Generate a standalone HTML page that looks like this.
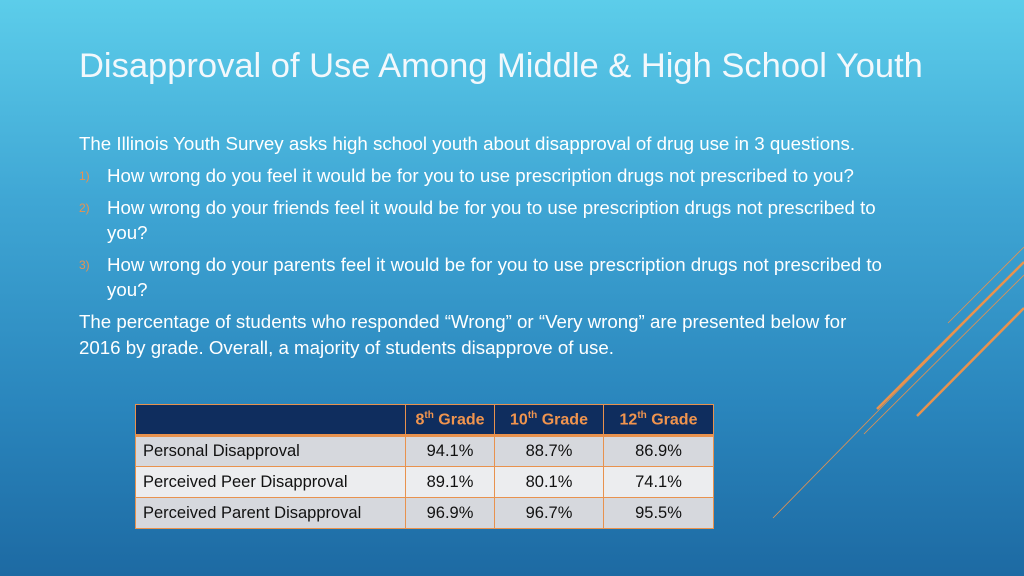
<!DOCTYPE html>
<html><head><meta charset="utf-8"><style>
body{margin:0;width:1024px;height:576px;overflow:hidden;font-family:"Liberation Sans",sans-serif;}
#slide{position:relative;width:1024px;height:576px;background:linear-gradient(180deg,#5ccdea 0%,#3fa6d4 35%,#2a86bd 70%,#1d6aa3 100%);color:#fff;}
.t{position:absolute;white-space:nowrap;font-size:18.7px;line-height:22px;}
.n{position:absolute;font-size:12px;color:#e8924e;line-height:22px;}
#title{position:absolute;left:79px;top:47px;font-size:34.5px;font-weight:300;color:#f2f8fc;white-space:nowrap;}
table{position:absolute;left:135px;top:404px;border-collapse:collapse;font-size:16.5px;table-layout:fixed;width:578px;}
td,th{border:1.5px solid #e8924e;height:30px;padding:0;box-sizing:border-box;}
th{background:#0f2d5e;color:#f0944e;font-weight:bold;font-size:16px;border-bottom:3px solid #e8924e;}
td{color:#111;text-align:center;}
td.l{text-align:left;padding-left:7px;}
tr.a td{background:#d6d8dd;} tr.b td{background:#ecedef;}
sup{font-size:10px;}
</style></head><body>
<div id="slide">
<div id="title">Disapproval of Use Among Middle &amp; High School Youth</div>
<div class="t" style="left:79px;top:133px">The Illinois Youth Survey asks high school youth about disapproval of drug use in 3 questions.</div>
<div class="n" style="left:79px;top:165px">1)</div>
<div class="t" style="left:107px;top:165px">How wrong do you feel it would be for you to use prescription drugs not prescribed to you?</div>
<div class="n" style="left:79px;top:197px">2)</div>
<div class="t" style="left:107px;top:197px">How wrong do your friends feel it would be for you to use prescription drugs not prescribed to</div>
<div class="t" style="left:107px;top:222px">you?</div>
<div class="n" style="left:79px;top:254px">3)</div>
<div class="t" style="left:107px;top:254px">How wrong do your parents feel it would be for you to use prescription drugs not prescribed to</div>
<div class="t" style="left:107px;top:279px">you?</div>
<div class="t" style="left:79px;top:311px">The percentage of students who responded “Wrong” or “Very wrong” are presented below for</div>
<div class="t" style="left:79px;top:337px">2016 by grade. Overall, a majority of students disapprove of use.</div>
<svg width="1024" height="576" style="position:absolute;left:0;top:0">
<g stroke="#e8924e" fill="none">
<line x1="877" y1="409" x2="1024" y2="262" stroke-width="2.5"/>
<line x1="917" y1="416" x2="1024" y2="308" stroke-width="2.5"/>
<line x1="773" y1="518" x2="1024" y2="262" stroke-width="0.8"/>
<line x1="864" y1="434" x2="1024" y2="275" stroke-width="0.8"/>
<line x1="948" y1="323" x2="1024" y2="247" stroke-width="0.8"/>
</g></svg>
<table>
<colgroup><col style="width:270px"><col style="width:89px"><col style="width:109px"><col style="width:110px"></colgroup>
<tr style="height:31px"><th></th><th>8<sup>th</sup> Grade</th><th>10<sup>th</sup> Grade</th><th>12<sup>th</sup> Grade</th></tr>
<tr class="a" style="height:31px"><td class="l">Personal Disapproval</td><td>94.1%</td><td>88.7%</td><td>86.9%</td></tr>
<tr class="b" style="height:31px"><td class="l">Perceived Peer Disapproval</td><td>89.1%</td><td>80.1%</td><td>74.1%</td></tr>
<tr class="a" style="height:31px"><td class="l">Perceived Parent Disapproval</td><td>96.9%</td><td>96.7%</td><td>95.5%</td></tr>
</table>
</div>
</body></html>
